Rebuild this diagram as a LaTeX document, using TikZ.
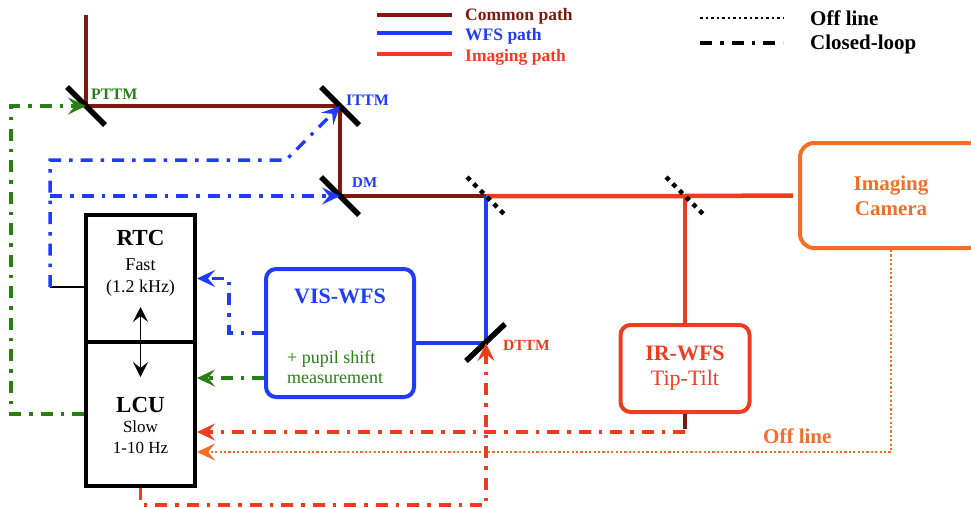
\documentclass[tikz,border=0pt]{standalone}
\usepackage{fontspec}
\setmainfont{Liberation Serif}
\usetikzlibrary{arrows.meta,positioning}
\definecolor{cpath}{RGB}{128,24,16}
\definecolor{wfsc}{RGB}{30,60,250}
\definecolor{imgc}{RGB}{240,60,30}
\definecolor{camc}{RGB}{245,110,40}
\definecolor{loopc}{RGB}{40,128,20}
\begin{document}
\begin{tikzpicture}[x=1pt,y=-1pt,
    common/.style={line width=4.5pt,draw=cpath},
    wfs/.style={line width=4.5pt,draw=wfsc},
    imaging/.style={line width=4.5pt,draw=imgc},
    mirror/.style={line width=5.5pt,draw=black},
    splitter/.style={line width=4.5pt,draw=black,dash pattern=on 4.5pt off 5pt},
    box/.style={draw,line width=4pt,minimum width=109pt},
    unit/.style={draw,line width=4pt,rounded corners=10pt,inner sep=0pt},
    ctrl/.style={line width=3.5pt,dash pattern=on 12pt off 8pt on 3.5pt off 8pt,
      -{Stealth[length=18pt,width=17pt,inset=7pt]}},
    offl/.style={line width=2.2pt,color=camc,dash pattern=on 2.2pt off 2.2pt,
      -{Stealth[length=18pt,width=17pt,inset=7pt]}},
    lbl/.style={inner sep=0pt,anchor=base},
    big/.style={font=\fontsize{23}{27}\selectfont\bfseries},
    mid/.style={font=\fontsize{18}{22}\selectfont},
    small/.style={font=\fontsize{17}{20}\selectfont},
    tag/.style={font=\fontsize{16}{19}\selectfont\bfseries},
    key/.style={font=\fontsize{17.5}{20}\selectfont\bfseries}
  ]
  \clip (0,0) rectangle (971,508);

  \coordinate (sky) at (86,15);
  \coordinate (pttm) at (86,106);
  \coordinate (ittm) at (340,106);
  \coordinate (dm) at (340,196);
  \coordinate (bs1) at (486,196);
  \coordinate (bs2) at (685,196);
  \coordinate (dttm) at (486,343);

  \node[box,minimum height=127pt] (rtc) at (140.5,278.5) {};
  \node[box,minimum height=144pt] (lcu) at (140.5,414) {};
  \node[unit,draw=wfsc,minimum width=148pt,minimum height=128pt] (vis) at (340,333) {};
  \node[unit,draw=imgc,minimum width=129pt,minimum height=87pt,align=center,
    text=imgc,font=\fontsize{22}{25}\selectfont] (ir) at (685,368.5)
    {\bfseries IR-WFS\\Tip-Tilt};
  \node[unit,draw=camc,rounded corners=14pt,minimum width=182pt,minimum height=105pt,
    align=center,text=camc,font=\fontsize{21}{25}\selectfont\bfseries] (cam) at (891,195.5)
    {Imaging\\Camera};

  \node[lbl,big] (rtcname) at (140.5,245) {RTC};
  \node[lbl,mid] (rtcfast) at (140.5,270) {Fast};
  \node[lbl,mid] (rtcrate) at (140.5,292) {(1.2 kHz)};
  \node[lbl,big] (lcuname) at (140.5,412) {LCU};
  \node[lbl,small] (lcuslow) at (140.5,432) {Slow};
  \node[lbl,small] (lcurate) at (140.5,453) {1-10 Hz};
  \node[lbl,wfsc,font=\fontsize{22}{25}\selectfont\bfseries] (visname) at (340,303) {VIS-WFS};
  \node[lbl,anchor=base west,mid,loopc] (pupil) at (287,363) {+ pupil shift};
  \node[lbl,anchor=base west,mid,loopc] (meas) at (287,383) {measurement};

  \draw[common] (sky) -- (pttm) -- (ittm) -- (dm) -- (bs1);
  \draw[imaging,shorten >=5pt] (bs1) -- (bs2) -- (cam.west);
  \draw[imaging] (bs2) -- (ir.north);
  \draw[wfs] (bs1) -- (dttm) -- (dttm -| vis.east);

  \foreach \m in {pttm,ittm,dm}
    \draw[mirror] (\m) ++(-19,-19) -- ++(38,38);
  \draw[mirror] (dttm) ++(-20,18) -- ++(39,-37);
  \foreach \s in {bs1,bs2}
    \draw[splitter] (\s) ++(-19,-19) -- ++(38,38);

  \node[lbl,anchor=base west,tag,loopc] (pttmlbl) at (91,100) {PTTM};
  \node[lbl,anchor=base west,tag,wfsc] (ittmlbl) at (346,106) {ITTM};
  \node[lbl,anchor=base west,font=\fontsize{15}{18}\selectfont\bfseries,wfsc] (dmlbl) at (352,187) {DM};
  \node[lbl,anchor=base west,font=\fontsize{15.5}{18}\selectfont\bfseries,imgc] (dttmlbl) at (503,350) {DTTM};

  \draw[<->,>={Stealth[length=15pt,width=15pt,inset=6pt]},line width=1.5pt]
    (140.5,307) coordinate (up) -- (140.5,377) coordinate (down);

  \coordinate (rtcout) at (50,287);
  \coordinate (kink) at (286,160);
  \draw[line width=1.3pt] (rtc.west |- rtcout) -- (rtcout);
  \draw[ctrl,color=wfsc] (rtcout) |- (kink) -- (ittm);
  \draw[ctrl,color=wfsc] (rtcout |- dm) -- (dm);
  \draw[ctrl,color=loopc] (lcu.west) -- ++(-73,0) |- (pttm);
  \draw[ctrl,color=wfsc] (vis.west) -- ++(-35,0) |- (rtc.east);
  \draw[ctrl,color=loopc] (vis.west |- meas) -- (lcu.east |- meas);

  \coordinate (irfb) at (685,432);
  \draw[line width=3.5pt,cpath] (ir.south) -- ++(0,15);
  \draw[ctrl,color=imgc] (irfb) -- (irfb -| lcu.east);
  \coordinate (offc) at (891,452);
  \draw[offl] (cam.south) -- (offc) -- (offc -| lcu.east);
  \node[lbl,anchor=base west,camc,font=\fontsize{21}{25}\selectfont\bfseries] (offlbl) at (763,443) {Off line};
  \coordinate (floor) at (486,505);
  \draw[ctrl,color=imgc] (lcu.south) |- (floor) -- (dttm);

  \node[lbl,anchor=base west,key,cpath] (lgcommon) at (465,21) {Common path};
  \node[lbl,anchor=base west,key,wfsc] (lgwfs) at (465,41) {WFS path};
  \node[lbl,anchor=base west,key,imgc] (lgimg) at (465,62) {Imaging path};
  \draw[common] ([xshift=-88pt,yshift=6pt]lgcommon.base west) -- ([xshift=-13pt,yshift=6pt]lgcommon.base west);
  \draw[wfs] ([xshift=-88pt,yshift=8pt]lgwfs.base west) -- ([xshift=-13pt,yshift=8pt]lgwfs.base west);
  \draw[imaging] ([xshift=-88pt,yshift=8pt]lgimg.base west) -- ([xshift=-13pt,yshift=8pt]lgimg.base west);
  \node[lbl,anchor=base west,font=\fontsize{21}{25}\selectfont\bfseries] (lgoff) at (810,26) {Off line};
  \node[lbl,anchor=base west,font=\fontsize{21}{25}\selectfont\bfseries] (lgloop) at (810,50) {Closed-loop};
  \draw[line width=2.5pt,dash pattern=on 2.5pt off 3pt] ([xshift=-110pt,yshift=8pt]lgoff.base west) -- ([xshift=-27pt,yshift=8pt]lgoff.base west);
  \draw[line width=3.5pt,dash pattern=on 12pt off 8pt on 3.5pt off 8pt] ([xshift=-110pt,yshift=7pt]lgloop.base west) -- ([xshift=-27pt,yshift=7pt]lgloop.base west);
\end{tikzpicture}
\end{document}
